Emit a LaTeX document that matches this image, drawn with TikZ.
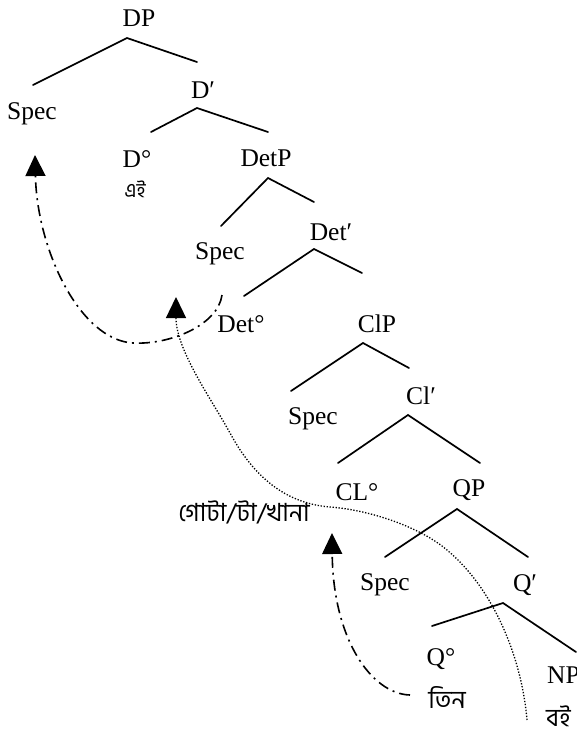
\documentclass[tikz,border=0pt]{standalone}
\usepackage{fontspec}
\setmainfont{Liberation Serif}
\newfontfamily\bnfont[Script=Bengali]{Hind Siliguri}
\usetikzlibrary{arrows.meta}

\begin{document}
\begin{tikzpicture}[x=1pt,y=-1pt,
  lab/.style={font=\fontsize{25.5}{30}\selectfont, inner sep=0pt, anchor=base},
  bn/.style={font=\bnfont\fontsize{25}{30}\selectfont, inner sep=0pt},
  bnsmall/.style={font=\bnfont\fontsize{20}{24}\selectfont, inner sep=0pt},
  branch/.style={line width=1.7pt, line cap=round, line join=miter},
  movetip/.style={-{Triangle[width=20pt,length=21pt]}},
  dashdot/.style={line width=1.6pt, dash pattern=on 11pt off 5pt on 2pt off 5pt, movetip},
  dotline/.style={line width=1.3pt, dash pattern=on 1.3pt off 1.7pt, movetip}]
\useasboundingbox (0,0) rectangle (576,734);

% category labels
\node[lab] (dp)    at (139,26)  {DP};
\node[lab] (specd) at (32,119)  {Spec};
\node[lab] (dbar)  at (203,98)  {D′};
\node[lab] (dhead) at (137,167) {D°};
\node[lab] (detp)  at (266,166) {DetP};
\node[lab] (specdet) at (220,259) {Spec};
\node[lab] (detbar)  at (331,240) {Det′};
\node[lab] (dethead) at (241,332) {Det°};
\node[lab] (clp)   at (377,332) {ClP};
\node[lab] (speccl) at (313,424) {Spec};
\node[lab] (clbar) at (421,404) {Cl′};
\node[lab] (clhead) at (357,500) {CL°};
\node[lab] (qp)    at (469,496) {QP};
\node[lab] (specq) at (385,590) {Spec};
\node[lab] (qbar)  at (525,591) {Q′};
\node[lab] (qhead) at (441,665) {Q°};
\node[lab, anchor=base west] (np) at (547,683) {NP};

% Bengali lexical items
\node[bnsmall] (ei) at (135,189) {এই};
\node[bn] (clf)   at (244,512) {গোটা/টা/খানা};
\node[bn] (tin)   at (447,697) {তিন};
\node[bn, anchor=west] (boi) at (546,716) {বই};

% branch points
\coordinate (dpL) at (33,85);   \coordinate (dpT) at (127,38);  \coordinate (dpR) at (197,62);
\coordinate (d1L) at (151,132); \coordinate (d1T) at (197,108); \coordinate (d1R) at (268,132);
\coordinate (eL) at (221,226);  \coordinate (eT) at (268,178);  \coordinate (eR) at (314,202);
\coordinate (e1L) at (244,296); \coordinate (e1T) at (314,249); \coordinate (e1R) at (362,273);
\coordinate (cL) at (291,391);  \coordinate (cT) at (363,343);  \coordinate (cR) at (409,368);
\coordinate (c1L) at (338,463); \coordinate (c1T) at (408,415); \coordinate (c1R) at (480,463);
\coordinate (qL) at (385,557);  \coordinate (qT) at (457,509);  \coordinate (qR) at (528,557);
\coordinate (q1L) at (432,626); \coordinate (q1T) at (503,603); \coordinate (q1R) at (576,652);

\draw[branch] (dpL) -- (dpT) -- (dpR);
\draw[branch] (d1L) -- (d1T) -- (d1R);
\draw[branch] (eL) -- (eT) -- (eR);
\draw[branch] (e1L) -- (e1T) -- (e1R);
\draw[branch] (cL) -- (cT) -- (cR);
\draw[branch] (c1L) -- (c1T) -- (c1R);
\draw[branch] (qL) -- (qT) -- (qR);
\draw[branch] (q1L) -- (q1T) -- (q1R);

% movement paths
\coordinate (detfrom) at (222,295);
\coordinate (specdtarget) at (35,155);
\coordinate (specdettarget) at (176,297);
\coordinate (cltarget) at (332,533);
\coordinate (boifrom) at (527,720);
\coordinate (tinfrom) at (410,695);

\draw[dashdot] (detfrom) .. controls (218,325) and (170,345) .. (133,343)
   .. controls (80,340) and (37,250) .. (specdtarget);
\draw[dotline] (boifrom) .. controls (522,660) and (495,590) .. (447,550)
   .. controls (420,527) and (370,510) .. (330,507)
   .. controls (280,503) and (250,470) .. (230,433)
   .. controls (212,400) and (176,350) .. (specdettarget);
\draw[dashdot] (tinfrom) .. controls (372,694) and (333,640) .. (cltarget);
\end{tikzpicture}
\end{document}
